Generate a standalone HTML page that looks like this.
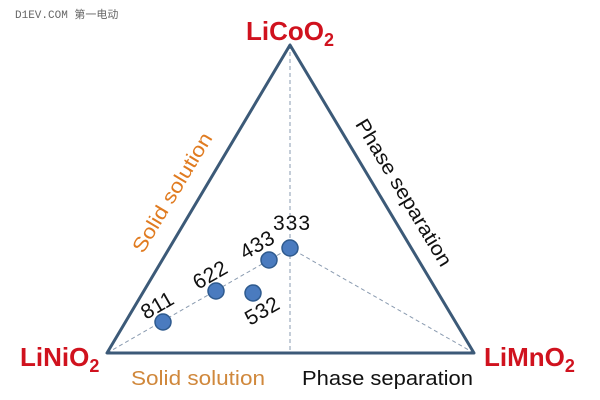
<!DOCTYPE html>
<html><head><meta charset="utf-8"><style>
body{margin:0;background:#fff;}
svg{display:block;}
</style></head><body>
<svg width="600" height="400" viewBox="0 0 600 400" xmlns="http://www.w3.org/2000/svg" font-family="Liberation Sans, sans-serif">
<rect width="600" height="400" fill="#fff"/>
<text x="15" y="18" font-family="Liberation Mono, Noto Sans CJK SC, monospace" font-size="11" fill="#666">D1EV.COM 第一电动</text>
<g stroke="#8a9bb0" stroke-width="1" stroke-dasharray="4,3" fill="none">
<line x1="290" y1="45" x2="290" y2="354"/>
<line x1="107" y1="353" x2="290" y2="248"/>
<line x1="474" y1="353" x2="290" y2="248"/>
</g>
<polygon points="290,45 107,353 474,353" fill="none" stroke="#3c5a78" stroke-width="3" stroke-linejoin="round"/>
<g fill="#4a7bbf" stroke="#2e5a8e" stroke-width="1.5">
<circle cx="163" cy="322" r="8"/>
<circle cx="216" cy="291" r="8"/>
<circle cx="269" cy="260" r="8"/>
<circle cx="290" cy="248" r="8"/>
<circle cx="253" cy="293" r="8"/>
</g>
<g font-size="21" fill="#111">
<text transform="translate(146,320) rotate(-30)" textLength="34">811</text>
<text transform="translate(198,290) rotate(-30)" textLength="36">622</text>
<text transform="translate(245,260) rotate(-30)" textLength="36">433</text>
<text x="273" y="230" textLength="37">333</text>
<text transform="translate(250,326) rotate(-30)" textLength="36">532</text>
</g>
<g font-weight="bold" fill="#d0121e" font-size="26">
<text x="246" y="40">LiCoO<tspan font-size="18" dy="6">2</tspan></text>
<text x="20" y="366">LiNiO<tspan font-size="18" dy="6">2</tspan></text>
<text x="484" y="366">LiMnO<tspan font-size="18" dy="6">2</tspan></text>
</g>
<text transform="translate(178,196) rotate(-59)" text-anchor="middle" font-size="20" fill="#e07b20" textLength="136" lengthAdjust="spacingAndGlyphs">Solid solution</text>
<text transform="translate(398,196) rotate(59)" text-anchor="middle" font-size="20" fill="#111" textLength="168" lengthAdjust="spacingAndGlyphs">Phase separation</text>
<text x="131" y="385" font-size="20" fill="#d0883c" textLength="134" lengthAdjust="spacingAndGlyphs">Solid solution</text>
<text x="302" y="385" font-size="20" fill="#111" textLength="171" lengthAdjust="spacingAndGlyphs">Phase separation</text>
</svg>
</body></html>
